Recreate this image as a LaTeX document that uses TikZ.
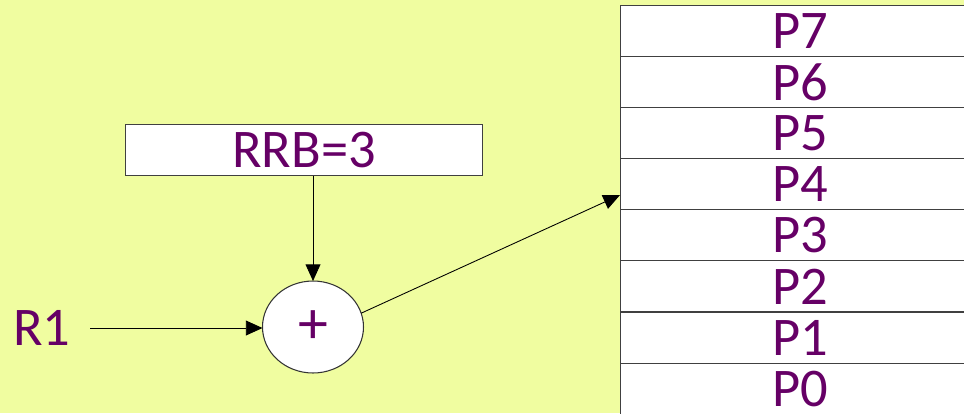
\documentclass[tikz,border=0pt]{standalone}
\usepackage{fontspec}
\setmainfont{Carlito}
\usepackage{xcolor}
\usetikzlibrary{calc, positioning, arrows.meta, shapes.geometric}
\definecolor{regpurple}{HTML}{660066}
\definecolor{bgyellow}{HTML}{F0FDA0}

\begin{document}
\begin{tikzpicture}[x=0.02cm, y=-0.02cm,
    reg/.style={draw=black!75, fill=white, line width=0.6pt, minimum width=7.2cm,
      minimum height=1.022cm, inner sep=0pt, outer sep=0pt, text=regpurple,
      font=\fontsize{31}{31}\selectfont},
    wire/.style={-{Triangle[length=9.5pt, width=8.5pt]}, line width=0.5pt}]
      % background %
      \fill[bgyellow] (0,0) rectangle (964,413);
      \useasboundingbox (0,0) rectangle (964,413);
      % register file %
      \node[reg] (p7) at (800,31) {P7};
      \node[reg, below=0pt of p7] (p6) {P6};
      \node[reg, below=0pt of p6] (p5) {P5};
      \node[reg, below=0pt of p5] (p4) {P4};
      \node[reg, below=0pt of p4] (p3) {P3};
      \node[reg, below=0pt of p3] (p2) {P2};
      \node[reg, below=0pt of p2] (p1) {P1};
      \node[reg, below=0pt of p1] (p0) {P0};
      % nodes %
      \node[reg, minimum width=7.16cm, minimum height=1.02cm] (rrb) at (304,150) {RRB=3};
      \node[draw=black!80, fill=white, ellipse, line width=0.6pt, minimum width=2.02cm,
        minimum height=1.84cm, inner sep=0pt, outer sep=0pt, text=regpurple,
        font=\fontsize{34}{34}\selectfont] (sum) at (313,327) {+};
      \node[text=regpurple, font=\fontsize{31}{31}\selectfont] (r1) at (42,328) {R1};
      % edges %
      \coordinate (r1end) at (90,328);
      \draw[wire] (r1end) -- (sum.west |- r1end);
      \draw[wire] (rrb.south -| sum.north) -- (sum.north);
      \draw[wire] (sum.16) -- ($(p4.west)!0.42!(p4.south west)$);
\end{tikzpicture}
\end{document}
